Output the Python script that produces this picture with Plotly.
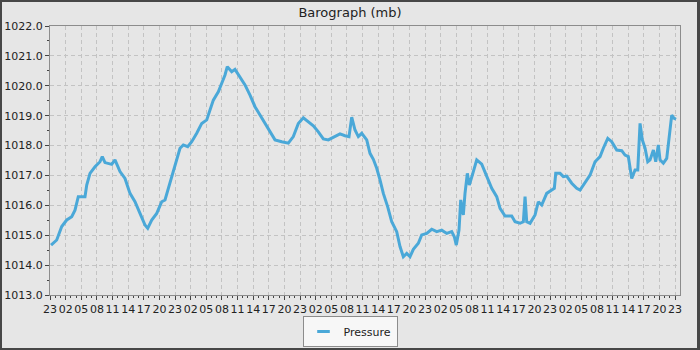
import plotly.graph_objects as go

# Hours since start (first tick = 23:00) and pressure in mb
hours = [0.2, 1.29, 2.25, 3.21, 4.17, 4.80, 5.43, 6.72, 7.05, 7.68, 8.64, 9.60, 10.04, 10.56,
         11.85, 12.48, 13.44, 14.40, 15.36, 16.32, 17.28, 18.24, 18.76, 19.53, 20.49, 21.45,
         22.08, 22.85, 24.00, 24.96, 25.60, 26.44, 27.21, 28.17, 29.13, 30.09, 30.72, 31.36,
         32.32, 32.97, 33.60, 34.04, 34.89, 35.52, 36.48, 37.44, 38.40, 39.36, 40.32, 41.28,
         42.24, 43.20, 44.49, 45.76, 46.72, 47.68, 48.64, 49.60, 50.56, 51.52, 52.48, 53.44,
         54.40, 55.68, 56.64, 57.41, 57.93, 58.56, 59.20, 59.85, 60.81, 61.44, 62.08, 62.73,
         63.36, 64.00, 64.84, 65.61, 66.57, 67.20, 67.84, 68.49, 69.12, 69.76, 70.72, 71.37,
         72.33, 73.29, 74.25, 75.21, 76.17, 77.13, 77.63, 78.01, 78.53, 78.86, 79.36, 79.68,
         80.13, 80.51, 81.09, 81.93, 82.89, 83.53, 84.16, 84.81, 85.77, 86.41, 87.37, 88.65,
         89.29, 90.25, 90.88, 91.21, 91.53, 92.17, 93.13, 93.76, 94.41, 95.37, 96.33, 96.83,
         97.10, 97.93, 98.56, 99.21, 100.17, 101.13, 101.77, 102.73, 103.69, 104.65, 105.61,
         106.24, 107.09, 107.85, 108.81, 109.77, 110.41, 111.04, 111.69, 112.33, 112.85,
         113.29, 113.73, 114.25, 114.77, 115.21, 115.85, 116.30, 116.80, 117.13, 117.76,
         118.41, 118.86, 119.37, 119.82, 120.20]
pressure = [1014.67, 1014.84, 1015.29, 1015.51, 1015.62, 1015.84, 1016.29, 1016.29, 1016.68,
            1017.07, 1017.29, 1017.46, 1017.63, 1017.43, 1017.37, 1017.52, 1017.13, 1016.90,
            1016.40, 1016.12, 1015.73, 1015.34, 1015.23, 1015.51, 1015.73, 1016.12, 1016.18,
            1016.62, 1017.29, 1017.91, 1018.02, 1017.96, 1018.13, 1018.41, 1018.74, 1018.86,
            1019.19, 1019.52, 1019.80, 1020.08, 1020.36, 1020.64, 1020.47, 1020.55, 1020.30,
            1020.03, 1019.69, 1019.30, 1019.02, 1018.74, 1018.46, 1018.19, 1018.13, 1018.08,
            1018.30, 1018.74, 1018.93, 1018.80, 1018.66, 1018.46, 1018.22, 1018.19, 1018.28,
            1018.39, 1018.33, 1018.30, 1018.95, 1018.52, 1018.30, 1018.41, 1018.19, 1017.74,
            1017.54, 1017.24, 1016.85, 1016.40, 1015.95, 1015.45, 1015.12, 1014.62, 1014.28,
            1014.39, 1014.28, 1014.53, 1014.73, 1015.01, 1015.06, 1015.20, 1015.12, 1015.17,
            1015.06, 1015.12, 1014.95, 1014.67, 1015.17, 1016.18, 1015.68, 1016.40, 1017.07,
            1016.68, 1017.01, 1017.52, 1017.38, 1017.13, 1016.85, 1016.57, 1016.29, 1015.90,
            1015.64, 1015.64, 1015.45, 1015.40, 1015.45, 1016.29, 1015.45, 1015.40, 1015.68,
            1016.12, 1016.01, 1016.40, 1016.51, 1016.57, 1017.07, 1017.07, 1016.96, 1016.98,
            1016.74, 1016.57, 1016.51, 1016.74, 1017.01, 1017.46, 1017.63, 1017.91, 1018.24,
            1018.13, 1017.85, 1017.83, 1017.68, 1017.63, 1016.90, 1017.18, 1017.18, 1018.74,
            1018.19, 1017.91, 1017.46, 1017.52, 1017.85, 1017.46, 1018.02, 1017.52, 1017.41,
            1017.57, 1018.19, 1019.02, 1018.91, 1018.88]

tick_hours = list(range(0, 121, 3))
hour_cycle = ["23", "02", "05", "08", "11", "14", "17", "20"]
tick_labels = [hour_cycle[i % 8] for i in range(len(tick_hours))]

LINE = "#4aa8d8"
BG = "#e6e6e6"
GRID = "#c3c3c3"
AX = "#8c8c8c"
FONT = "DejaVu Sans"

fig = go.Figure()
fig.add_trace(go.Scatter(x=hours, y=pressure, mode="lines", name="Pressure",
                         line=dict(color=LINE, width=3), showlegend=False, hoverinfo="skip"))
fig.add_trace(go.Scatter(x=[None], y=[None], mode="markers", name="Pressure",
                         marker=dict(symbol="line-ew", size=9, color=LINE,
                                     line=dict(color=LINE, width=3))))

# plot area: x 50..680, y 26..295
def px2x(p):
    return (p - 50) / 630.0

def py2y(p):
    return (295 - p) / 269.0

fig.add_shape(type="rect", xref="paper", yref="paper",
              x0=px2x(2), x1=px2x(697), y0=py2y(348), y1=py2y(2),
              fillcolor=BG, line=dict(width=0), layer="below")

fig.update_layout(
    width=700, height=350,
    margin=dict(l=50, r=20, t=26, b=55, autoexpand=False),
    paper_bgcolor="#474747",
    plot_bgcolor=BG,
    font=dict(family=FONT, size=11, color="#222222"),
    title=dict(text="Barograph (mb)", x=0.5, xanchor="center", xref="container",
               y=1 - 12 / 350, yanchor="middle", yref="container",
               font=dict(size=13, color="#222222")),
    showlegend=True,
    legend=dict(orientation="h", x=0.5, xanchor="center", xref="container",
                y=1 - 347 / 350, yanchor="bottom", yref="container",
                bgcolor="#f7f7f7", bordercolor="#8c8c8c", borderwidth=1,
                font=dict(size=11, color="#222222")),
    xaxis=dict(range=[0, 120.96], tickmode="array", tickvals=tick_hours, ticktext=tick_labels,
               tickangle=0, automargin=False,
               showgrid=True, gridcolor=GRID, griddash="4px,3px", gridwidth=1,
               showline=True, linecolor=AX, linewidth=1, mirror=True, zeroline=False,
               ticks="outside", ticklen=4, tickcolor="#444444", tickwidth=1,
               tickfont=dict(size=11),
               minor=dict(dtick=1, tick0=0, ticks="outside", ticklen=2, tickcolor="#444444",
                          showgrid=False)),
    yaxis=dict(range=[1013, 1022], dtick=1, tick0=1013, tickformat=".1f", automargin=False,
               showgrid=True, gridcolor=GRID, griddash="4px,3px", gridwidth=1,
               showline=True, linecolor=AX, linewidth=1, mirror=True, zeroline=False,
               ticks="outside", ticklen=4, tickcolor="#444444", tickwidth=1,
               tickfont=dict(size=11),
               minor=dict(dtick=0.5, tick0=1013, ticks="outside", ticklen=2,
                          tickcolor="#444444", showgrid=False)),
)

fig.write_html("out.html")
